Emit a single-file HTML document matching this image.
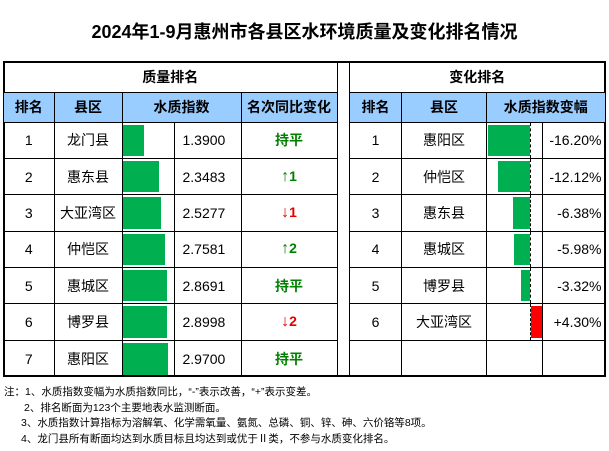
<!DOCTYPE html>
<html><head><meta charset="utf-8">
<style>
body{margin:0;width:609px;height:451px;background:#fff;font-family:"Liberation Sans","Noto Sans CJK SC",sans-serif;position:relative;overflow:hidden}
#title{position:absolute;left:0;top:18px;width:609px;text-align:center;font-size:18px;font-weight:bold;color:#000}
#frame{position:absolute;left:3px;top:61px;width:599px;height:312px;border:2px solid #000}
table{position:absolute;border-collapse:collapse;table-layout:fixed}
td{border:1px solid #000;padding:0;text-align:center;font-size:14px;color:#000;position:relative;white-space:nowrap}
.hd td{background:#99CCFF;font-weight:bold;font-size:14px}
.grp td{font-weight:bold;font-size:14px}
.bar{position:absolute;top:2px;bottom:2px}
.g{color:#008000;font-weight:bold}.r{color:#e00000;font-weight:bold}
.arr{font-size:16px}
#notes{position:absolute;left:4px;top:385px;font-size:10.5px;line-height:15.7px;color:#000}
#gap{position:absolute;left:337px;top:63px;width:11px;height:312px;border-left:1px solid #000;border-right:1px solid #000}
</style></head><body>
<div id="title">2024年1-9月惠州市各县区水环境质量及变化排名情况</div>
<div id="frame"></div>
<div id="gap"></div>
<table id="lt" style="left:4px;top:63px;width:333px">
<colgroup><col style="width:50px"><col style="width:68px"><col style="width:52px"><col style="width:67px"><col style="width:96px"></colgroup>
<tr class="grp" style="height:29px"><td colspan="5" style="border-top:none;border-left:none">质量排名</td></tr>
<tr class="hd" style="height:30px"><td style="border-left:none">排名</td><td>县区</td><td colspan="2">水质指数</td><td>名次同比变化</td></tr>
</table>
<table id="rt" style="left:349px;top:63px;width:255px">
<colgroup><col style="width:52px"><col style="width:85px"><col style="width:56px"><col style="width:62px"></colgroup>
<tr class="grp" style="height:29px"><td colspan="4" style="border-top:none;border-right:none">变化排名</td></tr>
<tr class="hd" style="height:30px"><td>排名</td><td>县区</td><td colspan="2" style="border-right:none">水质指数变幅</td></tr>
</table>
<div id="notes">注：1、水质指数变幅为水质指数同比，“-”表示改善，“+”表示变差。<br>
<span style="padding-left:20px">2、排名断面为123个主要地表水监测断面。</span><br>
<span style="padding-left:17px">3、水质指数计算指标为溶解氧、化学需氧量、氨氮、总磷、铜、锌、砷、六价铬等8项。</span><br>
<span style="padding-left:17px">4、龙门县所有断面均达到水质目标且均达到或优于Ⅱ类，不参与水质变化排名。</span></div>
<script>
const leftNames=["龙门县","惠东县","大亚湾区","仲恺区","惠城区","博罗县","惠阳区"];
const leftValues=[1.3900,2.3483,2.5277,2.7581,2.8691,2.8998,2.9700];
const leftChanges=["持平","↑1","↓1","↑2","持平","↓2","持平"];
const rightNames=["惠阳区","仲恺区","惠东县","惠城区","博罗县","大亚湾区"];
const rightValues=[-16.20,-12.12,-6.38,-5.98,-3.32,4.30];
const rowH=36.4;
function xQ(v){return v*15.4;}
function xC(v){return v*2.6;}
const lt=document.getElementById('lt'),rt=document.getElementById('rt');
for(let i=0;i<7;i++){
  const tr=document.createElement('tr');tr.style.height=rowH+'px';
  
  
  const c=leftChanges[i];const cls=c==='持平'||c[0]==='↑'?'g':'r';
  const ctext=c==='持平'?c:'<span class="arr">'+c[0]+'</span>'+c.slice(1);
  tr.innerHTML='<td style="border-left:none">'+(i+1)+'</td><td>'+leftNames[i]+'</td><td style="border-right:none"></td><td style="text-align:left;padding-left:8px">'+leftValues[i].toFixed(4)+'</td><td class="'+cls+'">'+ctext+'</td>';
  if(i==6)tr.querySelectorAll('td').forEach(t=>t.style.borderBottom='none');
  const b=document.createElement('div');b.className='bar';
  
  
  b.style.left='0px';b.style.width=xQ(leftValues[i])+'px';b.style.background='#00B050';
  tr.children[2].appendChild(b);
  lt.appendChild(tr);
}
for(let i=0;i<7;i++){
  const tr=document.createElement('tr');tr.style.height=rowH+'px';
  
  
  if(i<rightNames.length){
    const v=rightValues[i];
    tr.innerHTML='<td>'+(i+1)+'</td><td>'+rightNames[i]+'</td><td></td><td style="border-right:none;text-align:right;padding-right:3px">'+(v>0?'+':'')+v.toFixed(2)+'%</td>';
    const cell=tr.children[2];const axis=43;
    const ax=document.createElement('div');
    
    
    ax.style.cssText='position:absolute;left:'+axis+'px;top:0;bottom:0;border-left:1px dashed #000';
    cell.appendChild(ax);
    const b=document.createElement('div');b.className='bar';
    
    
    const w=xC(Math.abs(v));
    b.style.left=(v<0?axis-w:axis+1)+'px';b.style.width=w+'px';b.style.background=v<0?'#00B050':'#FF0000';
    cell.appendChild(b);
  } else {
    tr.innerHTML='<td></td><td></td><td></td><td style="border-right:none"></td>';
  }
  if(i==6)tr.querySelectorAll('td').forEach(t=>t.style.borderBottom='none');
  rt.appendChild(tr);
}
</script>
</body></html>
